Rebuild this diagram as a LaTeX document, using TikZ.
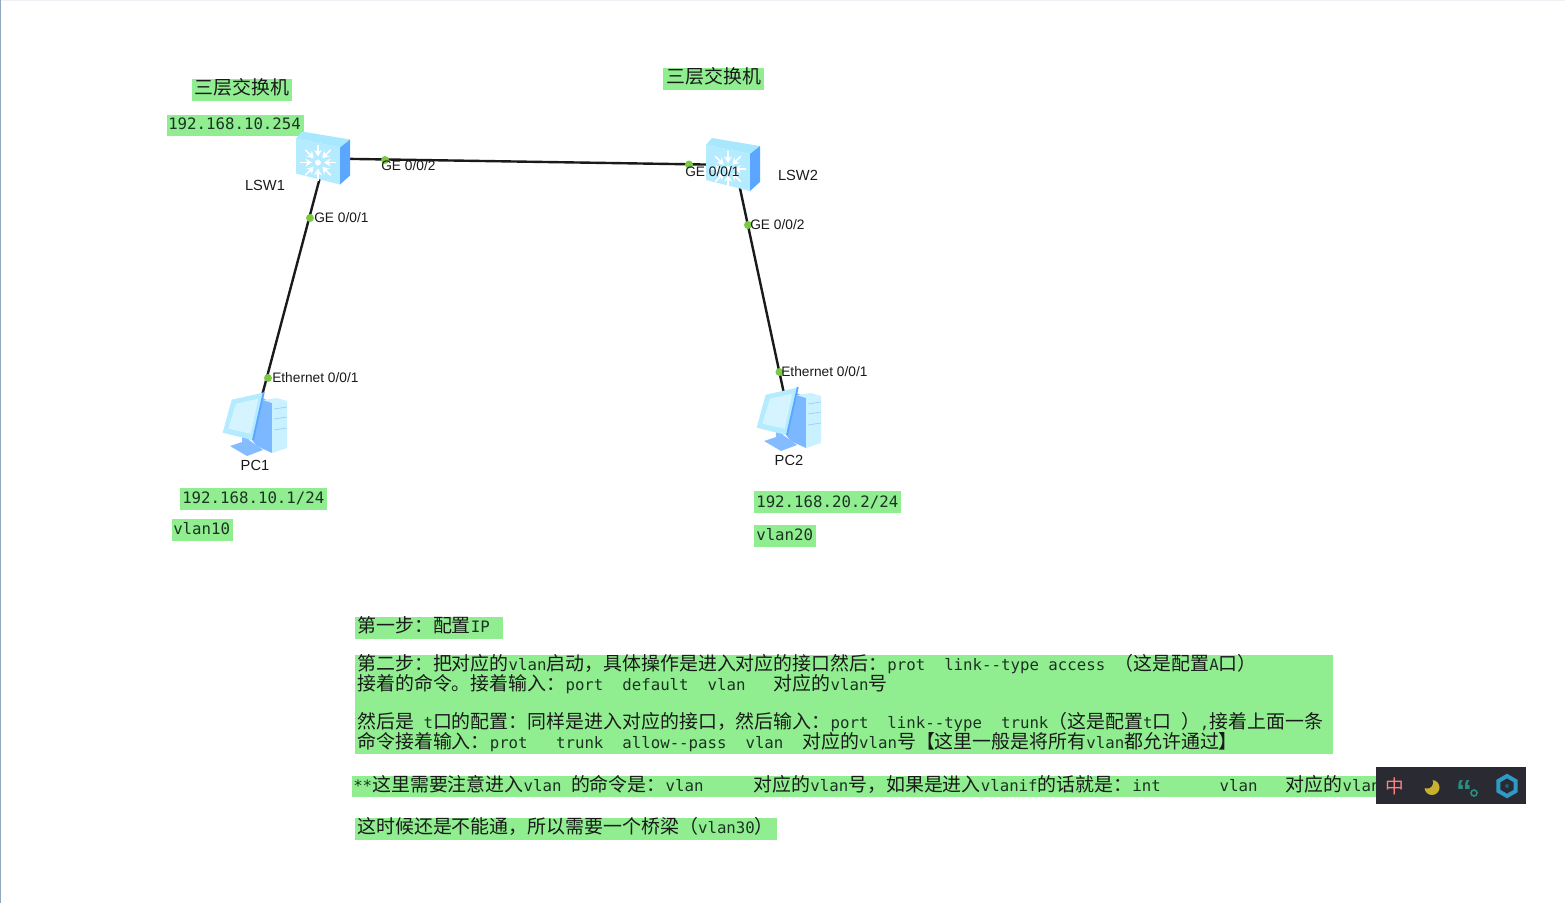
\documentclass[tikz,border=0pt]{standalone}
\usepackage{fontspec}
\setmainfont{Noto Sans CJK SC}
\setmonofont{DejaVu Sans Mono}
\newfontfamily\libfont{Liberation Sans}
\usepackage{xcolor}
\usetikzlibrary{arrows.meta,calc,shapes.geometric}
\definecolor{cG}{HTML}{90ee90}
\definecolor{cP}{HTML}{7ac943}
\definecolor{cT}{HTML}{1c3324}
\definecolor{cK}{HTML}{1a1a1a}
\definecolor{cF}{HTML}{b4ebff}
\definecolor{cU}{HTML}{a8e8ff}
\definecolor{cS}{HTML}{5ba6ff}
\definecolor{cW}{HTML}{292a32}
\definecolor{cE}{HTML}{8fa8c0}
\definecolor{cQ}{HTML}{2a8f7f}
\definecolor{cH}{HTML}{2e9bc6}
\definecolor{cY}{HTML}{c9b02f}
\newcommand{\mo}[1]{{\fontsize{11.8}{14}\ttfamily\selectfont\color{cT}#1}}
\newcommand{\cnsize}{\fontsize{14.2}{16}\selectfont}
\tikzset{
  devnode/.style={inner sep=0pt,minimum size=0pt},
  wire/.style={line width=1.8pt,cK},
  portdot/.style={circle,fill=cP,inner sep=0pt,minimum size=6pt},
  portlabel/.style={anchor=west,inner sep=0pt,text=cK,font=\libfont\fontsize{10.3}{12}\selectfont},
  devlabel/.style={inner sep=0pt,text=cK,font=\libfont\fontsize{11}{13}\selectfont},
  cnline/.style={anchor=base west,inner sep=0pt,text=cK,font=\cnsize},
  pics/switchicon/.style={code={
    \fill[cU] (-29,-20)--(-23,-27)--(25,-19)--(15,-11)--cycle;
    \fill[cF] (-29,-20)--(15,-11)--(15,26)--(-29,15)--cycle;
    \fill[cS] (15,-11)--(25,-19)--(25,17)--(15,26)--cycle;
    \foreach \a in {0,45,...,315}{
      \draw[white,line width=1.2pt,-{Stealth[length=5pt,width=6pt]}]
        ($(-7,4)+(\a:18)$)--($(-7,4)+(\a:6)$);}
    \fill[white] (-7,4) circle (3);
  }},
  pics/pcicon/.style={code={
    \fill[cS!80!white] (8,-24)--(17,-19)--(17,31)--(1.7,24)--(-3,18)--cycle;
    \fill[cF!70!white] (17,-19)--(32,-21)--(32,26)--(17,31)--cycle;
    \fill[cU!60!white] (8,-22)--(22,-24)--(32,-21)--(17,-19)--cycle;
    \foreach \ya in {-13,-3,8}{
      \draw[cS!60!white,line width=.5pt] (19,\ya)--(32,\ya-2);}
    \fill[cS!75!white] (-25,24)--(-13,20)--(-13,14)--(-6,14)--(-6,18)--(8,28)--(-8,34)--cycle;
    \fill[cF] (-32.3,10.7)--(-23.3,-22.3)--(8.3,-29.3)--(-1.7,18.3)--cycle;
    \fill[cF!55!white] (-26.7,6.7)--(-19,-18.3)--(3.3,-23.3)--(-4.3,11.7)--cycle;
    \draw[cS,line width=1.4pt] (8.8,-30)--(-2,18);
  }},
}
\begin{document}
\begin{tikzpicture}[x=.75pt,y=-.75pt]
  \useasboundingbox (0,0) rectangle (1565,903);
  \fill[white] (0,0) rectangle (1565,903);
  \fill[cE!15!white] (0,0) rectangle (1565,1);
  \fill[cE] (0,0) rectangle (1.2,903);
  % green marks behind the texts
  \foreach \xa/\ya/\xb/\yb in {192/79/292/101,167/115/304/136,663/68/764/90,
    180/488/327/510,172/519/233/541,754/491/901/513,754/525/816/547,
    355/617/503/639,355/655/1333/754,352/776/1380/797,355/818/777/840}{
    \fill[cG] (\xa,\ya) rectangle (\xb,\yb);}
  % devices
  \node[devnode] (LSW1) at (325,158.5) {};
  \node[devnode] (LSW2) at (735,165) {};
  \node[devnode] (PC1) at (255,422) {};
  \node[devnode] (PC2) at (789,417) {};
  \draw[wire] (LSW1.center)--(LSW2.center);
  \draw[wire] (LSW1.center)--(PC1.center);
  \draw[wire] (LSW2.center)--(PC2.center);
  \pic at (LSW1) {switchicon};
  \pic at (LSW2) {switchicon};
  \pic at (PC1) {pcicon};
  \pic at (PC2) {pcicon};
  \node[devlabel] (nameA) at (265,185) {LSW1};
  \node[devlabel] (nameB) at (798,175) {LSW2};
  \node[devlabel] (nameC) at (255,465) {PC1};
  \node[devlabel] (nameD) at (789,460) {PC2};
  % ports
  \node[portdot] (dotA) at (385,160) {};
  \node[portdot] (dotB) at (310,218) {};
  \node[portdot] (dotC) at (689,164.5) {};
  \node[portdot] (dotD) at (748,225) {};
  \node[portdot] (dotE) at (268,378) {};
  \node[portdot] (dotF) at (779.5,372) {};
  \node[portlabel] (portA) at (381,166) {GE 0/0/2};
  \node[portlabel] (portB) at (314,218) {GE 0/0/1};
  \node[portlabel] (portC) at (685,172) {GE 0/0/1};
  \node[portlabel] (portD) at (750,225) {GE 0/0/2};
  \node[portlabel] (portE) at (272,378) {Ethernet 0/0/1};
  \node[portlabel] (portF) at (781,372) {Ethernet 0/0/1};
  % notes on the devices
  \node[cnline] (roleA) at (194,94) {三层交换机};
  \node[cnline] (roleB) at (666,83) {三层交换机};
  \node[cnline] (ipA) at (168,129) {\mo{192.168.10.254}};
  \node[cnline] (ipB) at (182,503) {\mo{192.168.10.1/24}};
  \node[cnline] (vlanA) at (173,534) {\mo{vlan10}};
  \node[cnline] (ipC) at (756,507) {\mo{192.168.20.2/24}};
  \node[cnline] (vlanB) at (756,540) {\mo{vlan20}};
  % steps
  \node[cnline] (stepA) at (357,632) {第一步：配置\mo{IP}};
  \node[cnline] (stepB) at (357,670) {第二步：把对应的\mo{vlan}启动，具体操作是进入对应的接口然后：\mo{prot~~link--type~access~}（这是配置\mo{A}口）};
  \node[cnline] (stepC) at (357,690) {接着的命令。接着输入：\mo{port~~default~~vlan~~~}对应的\mo{vlan}号};
  \node[cnline] (stepD) at (357,728) {然后是\mo{~t}口的配置：同样是进入对应的接口，然后输入：\mo{port~~link--type~~trunk}（这是配置\mo{t}口\mo{~}）\mo{,}接着上面一条};
  \node[cnline] (stepE) at (357,748) {命令接着输入：\mo{prot~~~trunk~~allow--pass~~vlan~~}对应的\mo{vlan}号【这里一般是将所有\mo{vlan}都允许通过】};
  \node[cnline] (stepF) at (353,791) {\mo{**}这里需要注意进入\mo{vlan~}的命令是：\mo{vlan~~~~~\hspace{2pt}}对应的\mo{vlan}号，如果是进入\mo{vlanif}的话就是：\mo{int~~~~~~\hspace{1.5pt}vlan~~~}对应的\mo{vlan}};
  \node[cnline] (stepG) at (357,833) {这时候还是不能通，所以需要一个桥梁（\mo{vlan30}）};
  % input method bar
  \fill[cW] (1376,767) rectangle (1526,804);
  \node[inner sep=0pt,text=red!50!white,font=\fontsize{14}{16}\selectfont] (barA) at (1395,786) {中};
  \fill[cY] (1432,787.5) circle (7.5);
  \fill[cW] (1427,782.5) circle (6);
  \node[inner sep=0pt,text=cQ,font=\libfont\bfseries\fontsize{24}{24}\selectfont] (barB) at (1464,791) {“};
  \draw[cQ,line width=1.2pt] (1474,793) circle (3);
  \node[regular polygon,regular polygon sides=6,rotate=30,draw=cH,line width=3pt,
    minimum size=15pt,inner sep=0pt] (barC) at (1507,786) {};
  \fill[cH!60!black] (barC) circle (2);
\end{tikzpicture}
\end{document}
